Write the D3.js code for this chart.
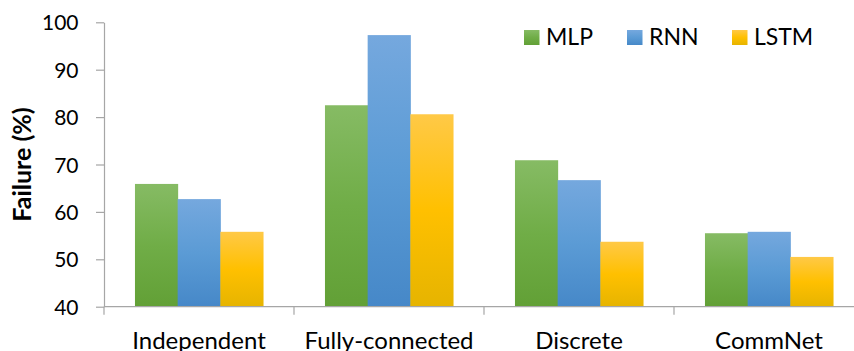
<!DOCTYPE html>
<html>
<head>
<meta charset="utf-8">
<script src="https://cdn.jsdelivr.net/npm/d3@7"></script>
<style>
  html, body { margin: 0; padding: 0; background: #fff; }
  svg { display: block; }
  text { font-family: Lato, "Open Sans", sans-serif; fill: #000; }
</style>
</head>
<body>
<svg id="chart" width="854" height="351"></svg>
<script>
const categories = ["Independent", "Fully-connected", "Discrete", "CommNet"];
const seriesNames = ["MLP", "RNN", "LSTM"];
const mlp  = [65.9, 82.5, 70.9, 55.5];
const rnn  = [62.7, 97.3, 66.7, 55.8];
const lstm = [55.8, 80.6, 53.7, 50.5];
const yTicks = [40, 50, 60, 70, 80, 90, 100];
const yTitle = "Failure (%)";

const seriesValues = [mlp, rnn, lstm];
const gradStops = [
  ["#86bb64", "#70ad47", "#62a036"],
  ["#75a8de", "#5b9bd5", "#4688c8"],
  ["#ffc947", "#ffc000", "#e6b400"]
];

const svg = d3.select("#chart");
const defs = svg.append("defs");
gradStops.forEach((s, i) => {
  const g = defs.append("linearGradient")
    .attr("id", "grad" + i)
    .attr("x1", 0).attr("y1", 0).attr("x2", 0).attr("y2", 1);
  g.append("stop").attr("offset", "0%").attr("stop-color", s[0]);
  g.append("stop").attr("offset", "50%").attr("stop-color", s[1]);
  g.append("stop").attr("offset", "100%").attr("stop-color", s[2]);
});

const mLeft = 104, mRight = 864, mTop = 22.3, mBottom = 306.7;
const y = d3.scaleLinear().domain([40, 100]).range([mBottom, mTop]);
const x = d3.scaleBand().domain(categories).range([mLeft, mRight])
  .paddingInner(0.326).paddingOuter(0.163);
const xs = d3.scaleBand().domain(seriesNames).range([0, x.bandwidth()]).padding(0);
const gapHalf = (x.step() - x.bandwidth()) / 2;

// bars
const rows = categories.map((c, ci) => ({ c, vals: seriesValues.map(s => s[ci]) }));
const groups = svg.append("g").selectAll("g").data(rows).join("g")
  .attr("transform", d => `translate(${x(d.c)},0)`);
groups.selectAll("rect").data(d => d.vals.map((v, i) => ({ v, i }))).join("rect")
  .attr("x", d => xs(seriesNames[d.i]))
  .attr("width", xs.bandwidth() + 0.5)
  .attr("y", d => y(d.v))
  .attr("height", d => y(40) - y(d.v))
  .attr("fill", d => `url(#grad${d.i})`);

// y axis
const yAxis = d3.axisLeft(y).tickValues(yTicks).tickSize(8).tickSizeOuter(0).tickPadding(17.5);
const gy = svg.append("g").attr("transform", `translate(${mLeft},0)`).call(yAxis);
gy.selectAll("path, line").attr("stroke", "#a6a6a6").attr("stroke-width", 1.2);
gy.selectAll("text").style("font-size", "21px").attr("dy", "0.36em");

// x axis line + boundary ticks
const gx = svg.append("g");
gx.append("line").attr("x1", mLeft).attr("x2", mRight).attr("y1", mBottom).attr("y2", mBottom)
  .attr("stroke", "#a6a6a6").attr("stroke-width", 1.2);
gx.selectAll("line.tk").data(categories).join("line").attr("class", "tk")
  .attr("x1", d => x(d) - gapHalf).attr("x2", d => x(d) - gapHalf)
  .attr("y1", mBottom).attr("y2", mBottom + 8)
  .attr("stroke", "#a6a6a6").attr("stroke-width", 1.2);
const xAxis = d3.axisBottom(x).tickSize(0).tickPadding(0);
const gxl = svg.append("g").attr("transform", `translate(0,${mBottom})`).call(xAxis);
gxl.select(".domain").remove();
gxl.selectAll("text").style("font-size", "24px").attr("y", 42.3).attr("dy", 0);

// y title
svg.append("text")
  .attr("transform", `translate(31,${(mTop + mBottom) / 2}) rotate(-90)`)
  .attr("text-anchor", "middle")
  .style("font-size", "25px").style("font-weight", "bold")
  .text(yTitle);

// legend
const legendX = [524, 627, 732];
const lg = svg.append("g").selectAll("g").data(seriesNames).join("g")
  .attr("transform", (d, i) => `translate(${legendX[i]},30)`);
lg.append("rect").attr("width", 15.5).attr("height", 15).attr("fill", (d, i) => `url(#grad${i})`);
lg.append("text").attr("x", 22).attr("y", 15.3).style("font-size", "23px").text(d => d);
</script>
</body>
</html>
